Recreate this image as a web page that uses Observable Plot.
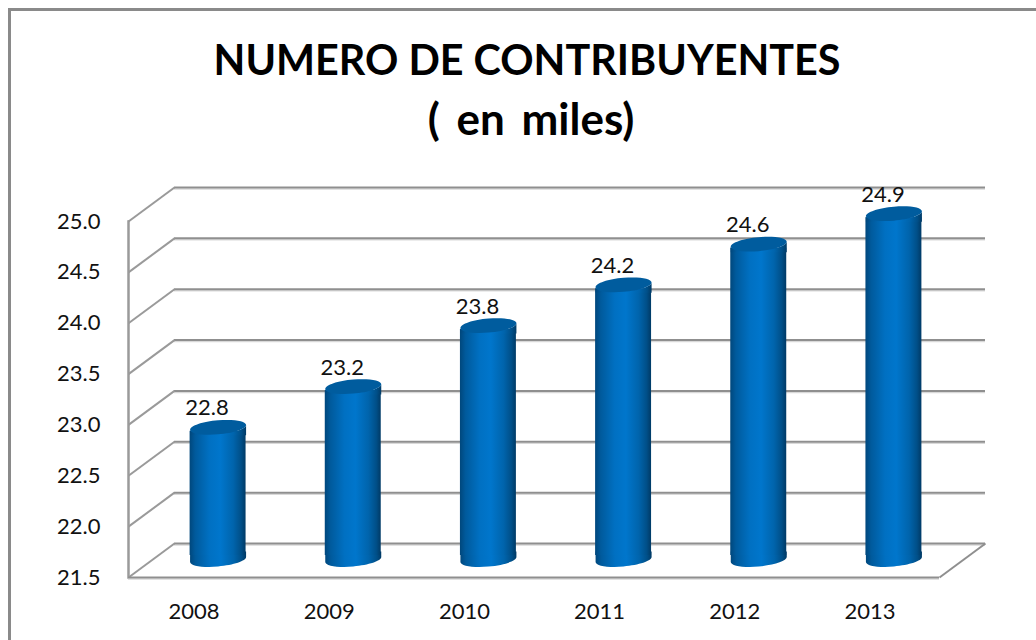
<!DOCTYPE html>
<html>
<head>
<meta charset="utf-8">
<script src="https://cdn.jsdelivr.net/npm/d3@7"></script>
<script src="https://cdn.jsdelivr.net/npm/@observablehq/plot@0.6"></script>
<style>
html,body{margin:0;padding:0;background:#fff;overflow:hidden}
#chart{position:relative;margin:8px 0 0 8px;border-left:3px solid #8a8a8a;border-top:3px solid #8a8a8a;width:1028px;height:632px;box-sizing:border-box}
#title{height:159px;box-sizing:border-box;padding-top:19px;padding-left:7px;text-align:center;font-family:Lato,sans-serif;font-weight:700;font-size:41.3px;line-height:59px;color:#000}
#title span{font-size:44px;word-spacing:6px;padding-left:8px}
svg{display:block}
</style>
</head>
<body>
<div id="chart">
  <div id="title">NUMERO DE CONTRIBUYENTES<br><span>( en miles)</span></div>
  <div id="plot"></div>
</div>
<script>
const years = ["2008","2009","2010","2011","2012","2013"];
const contribuyentes = [22.8,23.2,23.8,24.2,24.6,24.9];
const yTicks = [21.5,22,22.5,23,23.5,24,24.5,25];

const rows = years.map((year,i)=>({year,value:contribuyentes[i]}));
const base = yTicks[0];

// depth of the pseudo-3D box, in pixels
const depthX = 46, depthY = -34;
const cx = depthX/2 - 1, cy = depthY/2 - 1;
const a = 28, b = 7, shear = 0.085;
const P = (x,y)=>[x, y - shear*x];
const K = 0.5523;
function curve(ctx, pts){ ctx.bezierCurveTo(pts[0][0],pts[0][1],pts[1][0],pts[1][1],pts[2][0],pts[2][1]); }
const lowerArc = ctx=>{
  curve(ctx,[P(-a,K*b),P(-K*a,b),P(0,b)]);
  curve(ctx,[P(K*a,b),P(a,K*b),P(a,0)]);
};
const upperArc = ctx=>{
  curve(ctx,[P(a,-K*b),P(K*a,-b),P(0,-b)]);
  curve(ctx,[P(-K*a,-b),P(-a,-K*b),P(-a,0)]);
};
const topCap = {draw(ctx){ ctx.moveTo(...P(-a,0)); lowerArc(ctx); upperArc(ctx); ctx.closePath(); }};
const topPatch = {draw(ctx){ ctx.moveTo(...P(-a,0)); lowerArc(ctx); ctx.lineTo(a,8); ctx.lineTo(-a,8); ctx.closePath(); }};
const bottomCap = {draw(ctx){ ctx.moveTo(-a,-8); ctx.lineTo(...P(-a,0)); lowerArc(ctx); ctx.lineTo(a,-8); ctx.closePath(); }};
const oblique = {draw(ctx){ ctx.moveTo(0,0); ctx.lineTo(depthX,depthY); }};

const defs = () => {
  const d = d3.create("svg:defs");
  const g = d.append("linearGradient").attr("id","cyl").attr("x1",0).attr("x2",1).attr("y1",0).attr("y2",0);
  [[0,"#00477c"],[0.1,"#005a9c"],[0.35,"#0070c2"],[0.55,"#0076cc"],[0.78,"#0064ac"],[0.92,"#004f88"],[1,"#003a66"]]
    .forEach(([o,c])=>g.append("stop").attr("offset",o).attr("stop-color",c));
  return d.node();
};
const grid = "#8f8f8f", shadow = "#d9d9d9";
const fill = "url(#cyl)";

const chart = Plot.plot({
  width:1025, height:470,
  marginLeft:117, marginRight:97, marginTop:51, marginBottom:63,
  style:{background:"#fff",fontFamily:"Lato,sans-serif",fontSize:"22px",color:"#111",overflow:"visible"},
  x:{type:"band",domain:years,paddingInner:0.586,paddingOuter:0.293,round:false,label:null},
  y:{domain:[21.5,25],label:null,ticks:yTicks},
  marks:[
    defs,
    Plot.ruleY(yTicks,{dx:depthX,dy:depthY+1.5,stroke:shadow,strokeWidth:1.5}),
    Plot.ruleY(yTicks,{dx:depthX,dy:depthY,stroke:grid,strokeWidth:2}),
    Plot.dot(yTicks,{y:d=>d,frameAnchor:"left",symbol:oblique,r:5,fill:"none",stroke:"#9a9a9a",strokeWidth:2}),
    Plot.dot([base],{y:d=>d,frameAnchor:"right",symbol:oblique,r:5,fill:"none",stroke:"#8f8f8f",strokeWidth:2}),
    Plot.frame({anchor:"left",stroke:"#9a9a9a",strokeWidth:2.5}),
    Plot.ruleY([base],{dy:1.5,stroke:"#e2e2e2",strokeWidth:2}),
    Plot.ruleY([base],{stroke:"#8f8f8f",strokeWidth:2}),
    Plot.axisY({ticks:yTicks,tickSize:0,tickPadding:28,tickFormat:d3.format(".1f"),label:null,fill:"#111",fontSize:22}),
    Plot.axisX({tickSize:0,tickPadding:26,dx:-2,label:null,fill:"#111",fontSize:22}),
    Plot.dot(rows,{x:"year",y:()=>base,dx:cx,dy:cy,symbol:bottomCap,r:5,fill,stroke:"none"}),
    Plot.barY(rows,{x:"year",y1:()=>base,y2:"value",dx:cx,dy:cy,insetTop:4,insetBottom:4,fill}),
    Plot.dot(rows,{x:"year",y:"value",dx:cx,dy:cy,symbol:topPatch,r:5,fill,stroke:"none"}),
    Plot.dot(rows,{x:"year",y:"value",dx:cx,dy:cy,symbol:topCap,r:5,fill:"#005c9e",stroke:"none"}),
    Plot.text(rows,{x:"year",y:"value",text:d=>d3.format(".1f")(d.value),dx:11,dy:-37,fill:"#111",fontSize:22})
  ]
});
document.getElementById("plot").append(chart);
</script>
</body>
</html>
